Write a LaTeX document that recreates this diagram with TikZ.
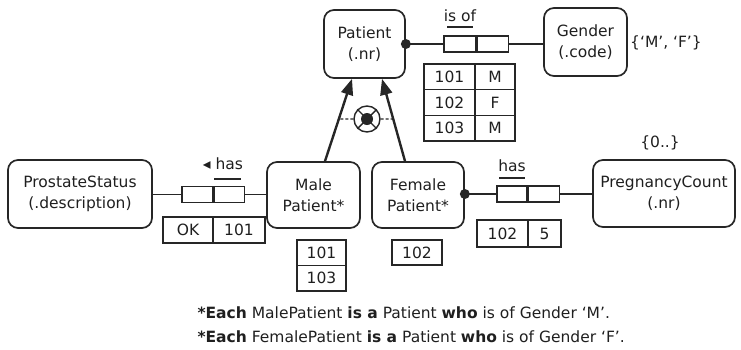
\documentclass[tikz,border=0pt]{standalone}
\usepackage{fontspec}
\setmainfont{DejaVu Sans}
\usetikzlibrary{arrows.meta,calc}
\begin{document}
\begin{tikzpicture}[x=1pt,y=-1pt,
  every node/.style={font=\fontsize{15.5}{21}\selectfont, text=black!88},
  ent/.style={draw=black!85, rounded corners=10pt, line width=1.7pt, inner sep=0pt, align=center},
  rolebox/.style={draw=black!85, line width=1.4pt, minimum height=16pt, inner sep=0pt},
  cell/.style={draw=black!85, line width=1.4pt, inner sep=0pt},
  conn/.style={draw=black!85, line width=1.5pt},
  subarrow/.style={draw=black!85, fill=black!85, line width=2.4pt, -{Triangle[length=16pt,width=12pt]}},
  mand/.style={circle, fill=black!85, inner sep=0pt, minimum size=10pt},
  uline/.style={draw=black!85, line width=1.6pt},
  xorline/.style={draw=black!85, line width=1.3pt, dash pattern=on 3pt off 2pt}
]
\useasboundingbox (0,0) rectangle (741,349);

% entity boxes
\node[ent, minimum width=81pt, minimum height=68pt] (patient) at (364.5,44) {Patient\\(.nr)};
\node[ent, minimum width=83pt, minimum height=68pt] (gender) at (585.5,42) {Gender\\(.code)};
\node[ent, minimum width=144pt, minimum height=68pt] (prostate) at (80,194) {ProstateStatus\\(.description)};
\node[ent, minimum width=93pt, minimum height=66pt] (male) at (313.5,195) {Male\\Patient*};
\node[ent, minimum width=92pt, minimum height=66pt] (female) at (418,195) {Female\\Patient*};
\node[ent, minimum width=142pt, minimum height=67pt] (preg) at (664,193.5) {PregnancyCount\\(.nr)};

% value constraints
\node (gval) at (666,43) {\{‘M’, ‘F’\}};
\node (pval) at (660,143) {\{0..\}};

% is of fact type
\node[rolebox, minimum width=32pt] (isofA) at (460,44) {};
\node[rolebox, minimum width=31pt, anchor=west] (isofB) at (isofA.east) {};
\draw[conn] (patient.east) -- (isofA.west);
\draw[conn] (isofB.east) -- (isofB.east -| gender.west);
\node[mand] (pdot) at (patient.east) {};
\node (isoflbl) at (460,16) {is of};
\draw[uline] (447,27) -- (473,27);

% patient gender table
\node[cell, minimum width=51pt, minimum height=25.7pt] (g11) at (449.5,76.85) {101};
\node[cell, minimum width=40pt, minimum height=25.7pt] (g12) at (495,76.85) {M};
\node[cell, minimum width=51pt, minimum height=25.7pt] (g21) at (449.5,102.55) {102};
\node[cell, minimum width=40pt, minimum height=25.7pt] (g22) at (495,102.55) {F};
\node[cell, minimum width=51pt, minimum height=25.7pt] (g31) at (449.5,128.25) {103};
\node[cell, minimum width=40pt, minimum height=25.7pt] (g32) at (495,128.25) {M};

% male has fact type
\node[rolebox, minimum width=31pt] (mhasA) at (197.5,194.5) {};
\node[rolebox, minimum width=30pt, anchor=west] (mhasB) at (mhasA.east) {};
\draw[conn] (prostate.east |- mhasA.west) -- (mhasA.west);
\draw[conn] (mhasB.east) -- (mhasB.east -| male.west);
\node (mhaslbl) at (223,164) {◂ has};
\draw[uline] (214,179) -- (241,179);
\node[cell, minimum width=50pt, minimum height=26pt] (ok1) at (188,230) {OK};
\node[cell, minimum width=52pt, minimum height=26pt] (ok2) at (239,230) {101};

% male / female population tables
\node[cell, minimum width=49pt, minimum height=25.5pt] (m1) at (321.5,252.75) {101};
\node[cell, minimum width=49pt, minimum height=25.5pt] (m2) at (321.5,278.25) {103};
\node[cell, minimum width=50pt, minimum height=25pt] (f1) at (417,252.5) {102};

% female has fact type
\node[rolebox, minimum width=30pt] (fhasA) at (512,194) {};
\node[rolebox, minimum width=31pt, anchor=west] (fhasB) at (fhasA.east) {};
\draw[conn] (female.east |- fhasA.west) -- (fhasA.west);
\draw[conn] (fhasB.east) -- (fhasB.east -| preg.west);
\node[mand] (fdot) at (female.east |- fhasA.west) {};
\node (fhaslbl) at (512,166) {has};
\draw[uline] (499,178) -- (525,178);
\node[cell, minimum width=51pt, minimum height=27pt] (p1) at (502.5,233.5) {102};
\node[cell, minimum width=33pt, minimum height=27pt] (p2) at (544.5,233.5) {5};

% subtype arrows
\coordinate (ms) at ([xshift=11.5pt]male.north);
\coordinate (pe1) at ([xshift=-12.5pt]patient.south);
\coordinate (fs) at ([xshift=-13pt]female.north);
\coordinate (pe2) at ([xshift=17.5pt]patient.south);
\draw[subarrow] (ms) -- (pe1);
\draw[subarrow] (fs) -- (pe2);

% exclusive-or constraint
\node[circle, draw=black!85, line width=1.4pt, minimum size=26pt, inner sep=0pt, fill=white] (xor) at (367,119) {};
\draw[black!85, line width=1.4pt] (xor.north east) -- (xor.south west) (xor.north west) -- (xor.south east);
\node[circle, fill=black!85, inner sep=0pt, minimum size=12pt] (xordot) at (xor.center) {};
\coordinate (xl) at ($(ms)!0.512!(pe1)$);
\coordinate (xr) at ($(fs)!0.512!(pe2)$);
\draw[xorline] (xor.west) -- (xl);
\draw[xorline] (xor.east) -- (xr);

% footnote
\node[anchor=west, align=left, font=\fontsize{15.5}{24}\selectfont] (note) at (194,325)
  {\textbf{*Each} MalePatient \textbf{is a} Patient \textbf{who} is of Gender ‘M’.\\
   \textbf{*Each} FemalePatient \textbf{is a} Patient \textbf{who} is of Gender ‘F’.};
\end{tikzpicture}
\end{document}
